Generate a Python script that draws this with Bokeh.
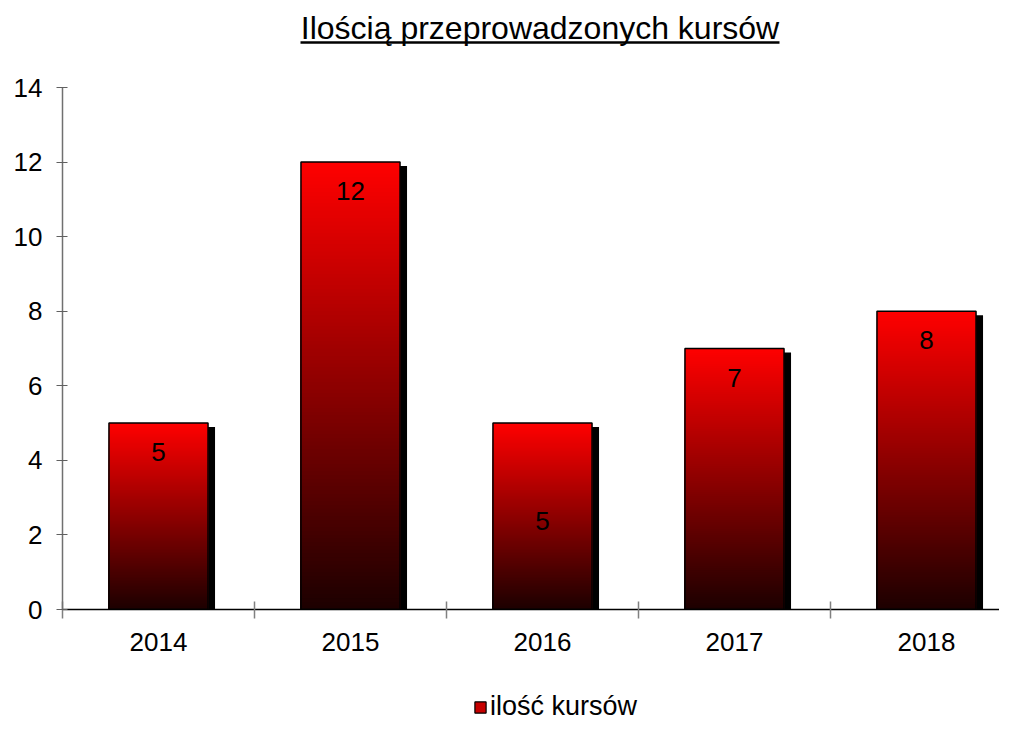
from bokeh.plotting import figure
from bokeh.layouts import column
from bokeh.models import (Range1d, FixedTicker, ColumnDataSource, Legend, LegendItem)
from bokeh.core.properties import value
from bokeh.embed import file_html
from bokeh.resources import INLINE

# ---- data ----
years = ["2014", "2015", "2016", "2017", "2018"]
counts = [5, 12, 5, 7, 8]
label_anchor = [5, 12, 3.14, 7, 8]   # where each value label sits
y_ticks = [0, 2, 4, 6, 8, 10, 12, 14]
title_text = "Ilością przeprowadzonych kursów"
legend_text = "ilość kursów"

FONT = "Liberation Sans"
W = 999
H_MAIN = 666
H_LEG = 56
B_LEFT = 62
FRAME_BOTTOM = 609
B_BOTTOM = H_MAIN - FRAME_BOTTOM
PX_PER_Y = 522 / 14.0
PX_PER_X = 192.0
Y_TOP = FRAME_BOTTOM / PX_PER_Y
X_END = (W - B_LEFT) / PX_PER_X

def ypx(canvas_y):
    return Y_TOP - canvas_y / PX_PER_Y

def xpx(canvas_x):
    return (canvas_x - B_LEFT) / PX_PER_X

p = figure(width=W, height=H_MAIN, output_backend="svg", toolbar_location=None,
           x_range=Range1d(0, X_END), y_range=Range1d(0, Y_TOP),
           min_border_left=B_LEFT, min_border_right=0, min_border_top=0,
           min_border_bottom=B_BOTTOM)
p.outline_line_color = None
p.xgrid.visible = False
p.ygrid.visible = False
p.background_fill_color = "white"

n = len(years)
centers = [i + 0.5 for i in range(n)]
bw = 0.516
dx = 7 / PX_PER_X
dy = 4 / PX_PER_Y

# shadow
p.quad(left=[c - bw / 2 + dx for c in centers], right=[c + bw / 2 + dx for c in centers],
       bottom=[0] * n, top=[v - dy for v in counts], fill_color="black", line_color=None)

# gradient body (nested slices, darkest drawn last at bottom)
N = 120
def shade(t):
    return "#%02x0000" % int(round(28 + (255 - 28) * t))

L, R, Bt, T, C = [], [], [], [], []
for j in range(N - 1, -1, -1):
    col = shade((j + 0.5) / N)
    for c, v in zip(centers, counts):
        L.append(c - bw / 2); R.append(c + bw / 2)
        Bt.append(0); T.append(v * (j + 1) / N); C.append(col)
src = ColumnDataSource(dict(left=L, right=R, bottom=Bt, top=T, color=C))
p.quad(left="left", right="right", bottom="bottom", top="top", source=src,
       fill_color="color", line_color=None)

p.quad(left=[c - bw / 2 for c in centers], right=[c + bw / 2 for c in centers],
       bottom=[0] * n, top=counts, fill_color=None, line_color="black", line_width=1.5)

# value labels
p.text(x=centers, y=label_anchor, text=[str(v) for v in counts], y_offset=29,
       text_align="center", text_baseline="middle", text_font=value(FONT),
       text_font_size="26px", text_color="black")

# title with underline
p.text(x=[xpx(539.5)], y=[ypx(27.5)], text=[title_text], text_align="center",
       text_baseline="middle", text_font=value(FONT), text_font_size="32px",
       text_color="black")
p.segment(x0=[xpx(300)], x1=[xpx(779)], y0=[ypx(42)], y1=[ypx(42)],
          line_color="black", line_width=2.5)

# axes
xa = p.xaxis[0]
xa.ticker = FixedTicker(ticks=centers, minor_ticks=list(range(n + 1)))
xa.major_label_overrides = {c: y for c, y in zip(centers, years)}
xa.major_tick_in = 0
xa.major_tick_out = 0
xa.minor_tick_in = 8
xa.minor_tick_out = 9
xa.minor_tick_line_color = "#808080"
xa.minor_tick_line_width = 1.5
xa.axis_line_color = "black"
xa.axis_line_width = 1.5
xa.major_label_text_font = FONT
xa.major_label_text_font_size = "26px"
xa.major_label_text_color = "black"
xa.major_label_standoff = 14

ya = p.yaxis[0]
ya.ticker = FixedTicker(ticks=y_ticks, minor_ticks=[])
ya.bounds = (0, 14)
ya.major_tick_in = 5
ya.major_tick_out = 6
ya.major_tick_line_color = "#606060"
ya.major_tick_line_width = 1.2
ya.axis_line_color = "#707070"
ya.axis_line_width = 1.5
ya.minor_tick_line_color = None
ya.major_label_text_font = FONT
ya.major_label_text_font_size = "26px"
ya.major_label_text_color = "black"
ya.major_label_standoff = 14

# ---- legend strip (its frame is aligned with the main frame by the column) ----
pl = figure(width=W, height=H_LEG, output_backend="svg", toolbar_location=None,
            x_range=Range1d(0, 1), y_range=Range1d(0, 1),
            x_axis_type=None, y_axis_type=None,
            min_border_left=0, min_border_right=0, min_border_top=0, min_border_bottom=0)
pl.outline_line_color = None
pl.xgrid.visible = False
pl.ygrid.visible = False
swatch = pl.quad(left=[-3], right=[-2], bottom=[-3], top=[-2], fill_color=shade(0.75),
                 line_color="black", line_width=1.2)
legend = Legend(items=[LegendItem(label=legend_text, renderers=[swatch])],
                location=(411, 0), orientation="horizontal",
                label_text_font=FONT, label_text_font_size="27px",
                label_text_color="black",
                glyph_width=14, glyph_height=14, label_standoff=3,
                padding=0, margin=0, border_line_color=None,
                background_fill_alpha=0, label_height=26)
pl.add_layout(legend, "center")

layout = column(p, pl, spacing=0)
open("out.html", "w").write(file_html(layout, INLINE))
